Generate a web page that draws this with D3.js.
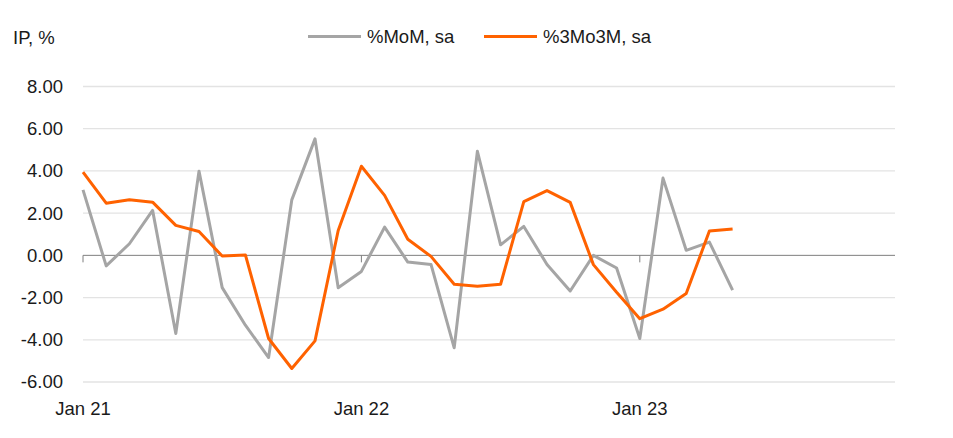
<!DOCTYPE html>
<html>
<head>
<meta charset="utf-8">
<script src="https://cdn.jsdelivr.net/npm/d3@7"></script>
<style>
  html, body { margin: 0; padding: 0; background: #fff; }
  svg { display: block; font-family: "Liberation Sans", Arial, sans-serif; }
</style>
</head>
<body>
<svg id="chart" width="953" height="438"></svg>
<script>
// ---- data ----
const startMonth = "2021-01";
const momValues = [3.1, -0.5, 0.55, 2.13, -3.7, 3.99, -1.53, -3.31, -4.84, 2.63, 5.52, -1.53,
                   -0.76, 1.34, -0.32, -0.43, -4.38, 4.93, 0.5, 1.37, -0.43, -1.69, 0.0, -0.6,
                   -3.94, 3.66, 0.24, 0.63, -1.65];
const m3m3Values = [3.94, 2.47, 2.63, 2.52, 1.42, 1.13, -0.03, 0.02, -3.94, -5.36, -4.05, 1.18,
                    4.22, 2.84, 0.76, -0.05, -1.37, -1.46, -1.37, 2.55, 3.07, 2.51, -0.44, -1.75,
                    -3.0, -2.55, -1.81, 1.15, 1.25];
const seriesNames = ["%MoM, sa", "%3Mo3M, sa"];
const xTickLabels = ["Jan 21", "Jan 22", "Jan 23"];
const xTickIndex = [0, 12, 24];
const yTicks = [-6, -4, -2, 0, 2, 4, 6, 8];
const yAxisTitle = "IP, %";
const monthsShown = 35;

const colors = ["#a5a5a5", "#ff6200"];

const svg = d3.select("#chart");
const margin = { left: 83, right: 58, top: 86.5, bottom: 56 };
const W = 953, H = 438;

const x = d3.scaleLinear().domain([0, monthsShown]).range([margin.left, W - margin.right]);
const y = d3.scaleLinear().domain([-6, 8]).range([H - margin.bottom, margin.top]);
const fmt = d => d3.format(".2f")(d).replace("\u2212", "-");

// gridlines
svg.append("g").selectAll("line").data(yTicks.filter(d => d !== 0)).join("line")
  .attr("x1", x(0)).attr("x2", x(monthsShown))
  .attr("y1", d => y(d)).attr("y2", d => y(d))
  .attr("stroke", "#e3e3e3").attr("stroke-width", 1.3);

// y labels
svg.append("g").selectAll("text").data(yTicks).join("text")
  .attr("x", 63).attr("y", d => y(d)).attr("dy", "0.35em")
  .attr("text-anchor", "end").attr("font-size", 18.5).attr("fill", "#1a1a1a")
  .text(fmt);

// zero axis
svg.append("line")
  .attr("x1", x(0)).attr("x2", x(monthsShown))
  .attr("y1", y(0)).attr("y2", y(0))
  .attr("stroke", "#7f7f7f").attr("stroke-width", 1);

svg.append("g").selectAll("line").data(xTickIndex).join("line")
  .attr("x1", d => x(d)).attr("x2", d => x(d))
  .attr("y1", y(0)).attr("y2", y(0) + 7)
  .attr("stroke", "#7f7f7f").attr("stroke-width", 1);

// x labels
svg.append("g").selectAll("text").data(xTickIndex).join("text")
  .attr("x", d => x(d)).attr("y", 415)
  .attr("text-anchor", "middle").attr("font-size", 18.5).attr("fill", "#1a1a1a")
  .text((d, i) => xTickLabels[i]);

// lines
const line = d3.line().x((d, i) => x(i)).y(d => y(d));
[momValues, m3m3Values].forEach((vals, k) => {
  svg.append("path").datum(vals)
    .attr("fill", "none").attr("stroke", colors[k]).attr("stroke-width", 3)
    .attr("stroke-linejoin", "round")
    .attr("d", line);
});

// y title
svg.append("text").attr("x", 13).attr("y", 44).attr("font-size", 18.5).attr("fill", "#1a1a1a")
  .text(yAxisTitle);

// legend
const legendX = [308, 484];
seriesNames.forEach((name, k) => {
  const g = svg.append("g");
  g.append("line").attr("x1", legendX[k]).attr("x2", legendX[k] + 53)
    .attr("y1", 36.5).attr("y2", 36.5)
    .attr("stroke", colors[k]).attr("stroke-width", 3);
  g.append("text").attr("x", legendX[k] + 59).attr("y", 42.5)
    .attr("font-size", 18.5).attr("fill", "#1a1a1a").text(name);
});
</script>
</body>
</html>
